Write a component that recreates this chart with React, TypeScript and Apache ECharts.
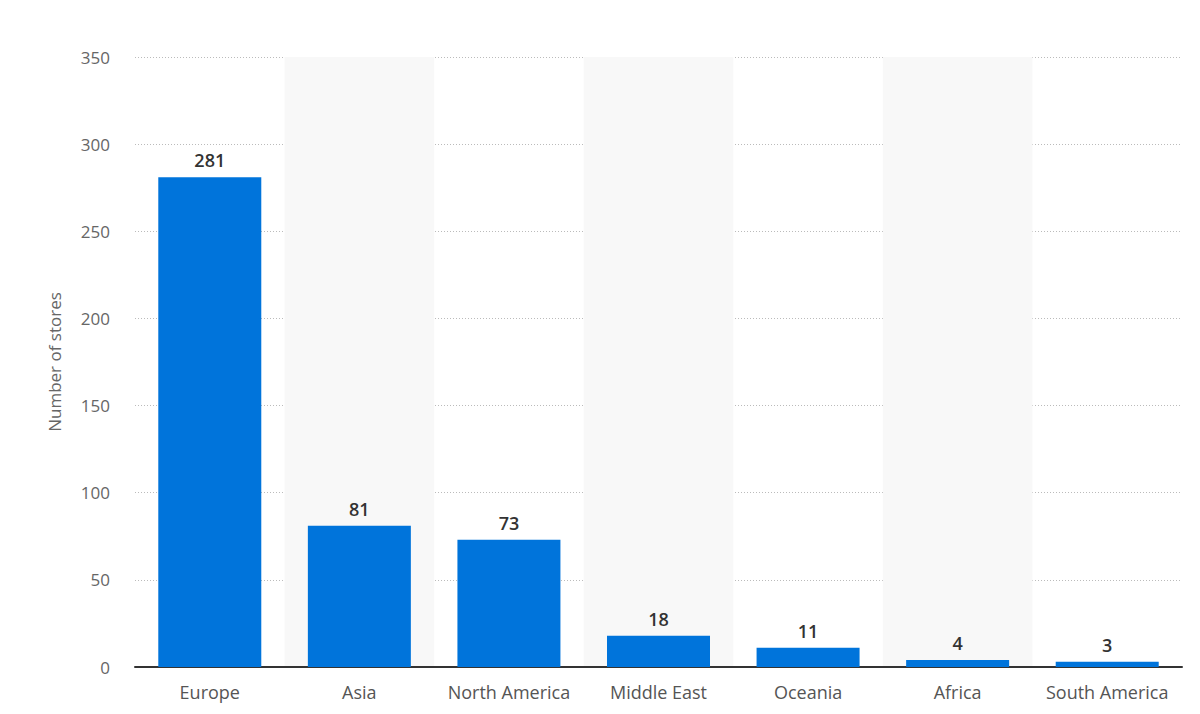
import React, { useEffect, useRef } from "react";
import * as echarts from "echarts";

const categories = ["Europe", "Asia", "North America", "Middle East", "Oceania", "Africa", "South America"];
const stores = [281, 81, 73, 18, 11, 4, 3];
const yTicks = [0, 50, 100, 150, 200, 250, 300, 350];

export default function App() {
  const ref = useRef<HTMLDivElement>(null);
  useEffect(() => {
    const chart = echarts.init(ref.current!, null, { renderer: "svg" });
    chart.setOption({
      animation: false,
      grid: { left: 135, right: 18, top: 57, bottom: 47 },
      xAxis: {
        type: "category",
        data: categories,
        axisLine: { show: true, lineStyle: { color: "#333", width: 2 } },
        axisTick: { show: false, interval: 0 },
        axisLabel: { interval: 0, color: "#555", fontSize: 18, fontFamily: "Open Sans", margin: 16 },
        splitArea: { show: true, interval: 0, areaStyle: { color: ["rgba(0,0,0,0)", "#f8f8f8"] } },
      },
      yAxis: {
        type: "value",
        min: yTicks[0],
        max: yTicks[yTicks.length - 1],
        interval: 50,
        name: "Number of stores",
        nameLocation: "middle",
        nameGap: 72,
        nameTextStyle: { color: "#666", fontSize: 17, fontFamily: "Open Sans" },
        axisLine: { show: false },
        axisTick: { show: false },
        axisLabel: { color: "#666", fontSize: 17, fontFamily: "Open Sans", margin: 25 },
        splitLine: {
          show: true,
          showMinLine: false,
          lineStyle: { color: "#bbb", type: [1, 2], width: 1 },
        },
      },
      series: [
        {
          type: "bar",
          data: stores,
          barWidth: 103,
          itemStyle: { color: "#0074db" },
          label: {
            show: true,
            position: "top",
            distance: 8,
            color: "#333",
            fontSize: 18,
            fontWeight: 600,
            fontFamily: "Open Sans",
          },
        },
      ],
    });
    return () => chart.dispose();
  }, []);
  return <div ref={ref} style={{ width: 1200, height: 714, position: "absolute", left: 0, top: 0 }} />;
}
